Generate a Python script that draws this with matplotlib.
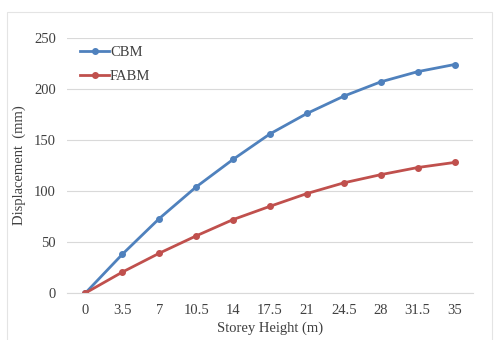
import matplotlib.pyplot as plt
from matplotlib.patches import Rectangle

heights = ['0', '3.5', '7', '10.5', '14', '17.5', '21', '24.5', '28', '31.5', '35']
cbm = [0, 38, 73, 104, 131, 156, 176, 193, 207, 217, 224]
fabm = [0, 20.5, 39, 56, 72, 85, 97.5, 108, 116, 123, 128]

plt.rcParams['font.family'] = 'Liberation Serif'

fig = plt.figure(figsize=(4.97, 3.40), dpi=100)
# faint chart-area frame
fig.patches.append(Rectangle((7 / 497, -0.01), 485 / 497, 1 - 12 / 340 + 0.01,
                             transform=fig.transFigure, fill=False,
                             edgecolor='#e4e4e4', linewidth=0.8))

ax = fig.add_axes([67 / 497, 47 / 340, 406 / 497, 255 / 340])
x = range(len(heights))
ax.plot(x, cbm, color='#4f81bd', linewidth=2, marker='o', markersize=4, label='CBM')
ax.plot(x, fabm, color='#c0504d', linewidth=2, marker='o', markersize=4, label='FABM')

ax.set_xlim(-0.5, len(heights) - 0.5)
ax.set_ylim(0, 250)
ax.set_yticks(range(0, 251, 50))
ax.set_xticks(list(x))
ax.set_xticklabels(heights)
ax.grid(axis='y', color='#d9d9d9', linewidth=0.8)
ax.set_axisbelow(True)
for s in ax.spines.values():
    s.set_visible(False)
ax.spines['bottom'].set_visible(True)
ax.spines['bottom'].set_color('#d9d9d9')
ax.tick_params(length=0, labelsize=10.5, colors='#404040', pad=8)

ax.set_xlabel('Storey Height (m)', fontsize=10.5, color='#404040', labelpad=3)
ax.set_ylabel('Displacement  (mm)', fontsize=10.5, color='#404040', labelpad=6)

ax.legend(loc='upper left', bbox_to_anchor=(0.0, 1.02), frameon=False, fontsize=10.5,
          handlelength=2.0, handletextpad=0.05, labelspacing=0.75, labelcolor='#404040')

fig.savefig('out.png', dpi=100)
